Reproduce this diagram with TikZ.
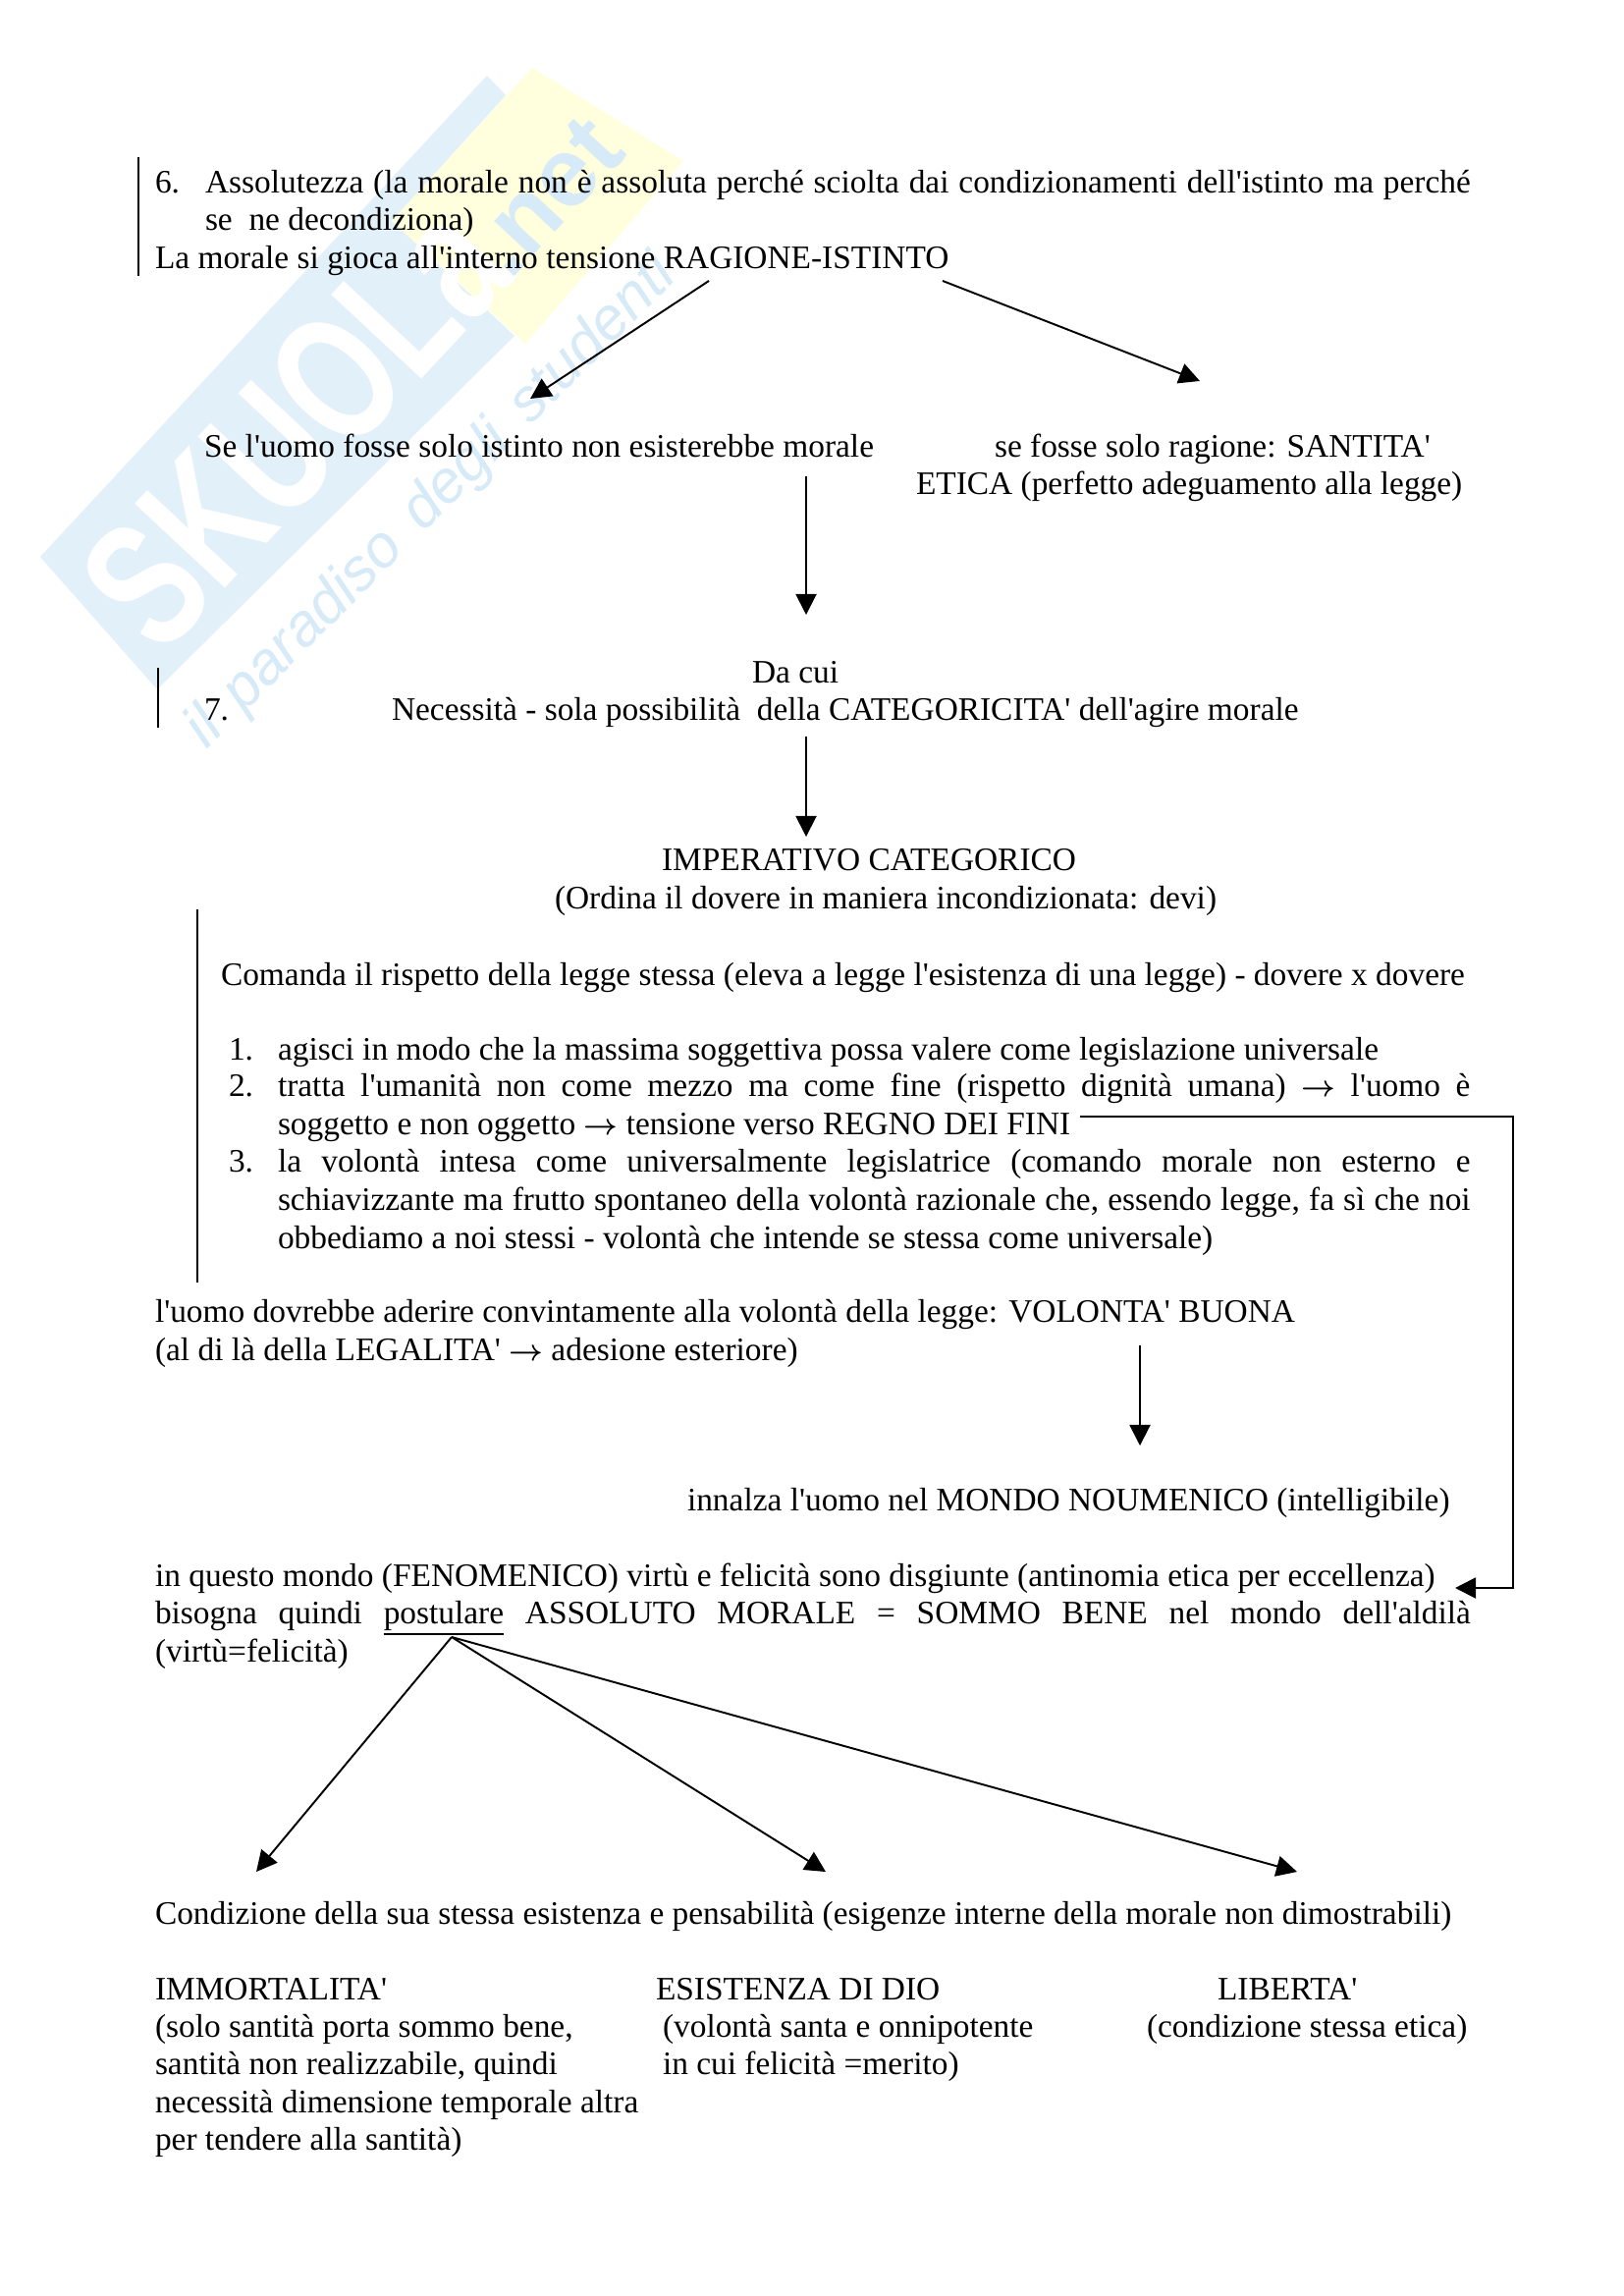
\documentclass[tikz,border=0pt]{standalone}
\usepackage{fontspec}
\setmainfont[Ligatures=TeXOff]{Liberation Serif}
\newfontfamily\wmfont{Liberation Sans}
\usepackage{tikz}
\usetikzlibrary{arrows.meta, positioning}
\definecolor{wmblue}{RGB}{226,240,249}
\definecolor{wmyellow}{RGB}{255,255,222}
\definecolor{wmtext}{RGB}{215,234,247}
\tikzset{
  txt/.style={anchor=base west, inner sep=0pt, outer sep=0pt, font=\fontsize{12.06pt}{12pt}\selectfont},
  freccia/.style={-{Triangle[length=7.6pt,width=7.6pt]}, line width=0.7pt},
  barra/.style={line width=0.7pt}
}
\newcommand{\jl}[2]{\makebox[#1][s]{#2}}
\newcommand{\fr}{\mbox{\fontsize{11pt}{11pt}\selectfont\boldmath$\rightarrow$}}
\begin{document}
\begin{tikzpicture}[x=0.0127cm, y=-0.0127cm]
    \useasboundingbox (0,0) rectangle (1653,2338);
    \fill[white] (0,0) rectangle (1653,2338);

    % watermark
    \fill[wmblue] (41,567) -- (496,77) -- (515,97) -- (399,225) -- (524,342) -- (160,702) -- cycle;
    \fill[wmyellow] (542,69) -- (696,164) -- (535,350) -- (399,225) -- cycle;
    \node[rotate=47, text=white, inner sep=0pt, font=\wmfont\bfseries\fontsize{66pt}{66pt}\selectfont, xscale=0.72] (wmlogo) at (300,432) {SKUOLa};
    \node[rotate=47, text=wmtext, inner sep=0pt, font=\wmfont\bfseries\fontsize{36pt}{36pt}\selectfont] (wmnet) at (556,200) {.net};
    \node[rotate=45, text=wmtext, inner sep=0pt, font=\wmfont\itshape\fontsize{22pt}{22pt}\selectfont] (wmmotto) at (440,512) {\spaceskip=0.42em il paradiso degli studenti};

    % margin bars
    \coordinate (b1a) at (141,160);
    \coordinate (b1b) at (141,281);
    \coordinate (b2a) at (161,680);
    \coordinate (b2b) at (161,741);
    \coordinate (b3a) at (201,926);
    \coordinate (b3b) at (201,1306);
    \draw[barra] (b1a) -- (b1b);
    \draw[barra] (b2a) -- (b2b);
    \draw[barra] (b3a) -- (b3b);

    % text
    \node[txt] (n6) at (158,197) {6.};
    \node[txt] (l1) at (209,197) {\jl{465.5pt}{Assolutezza (la morale non è assoluta perché sciolta dai condizionamenti dell'istinto ma perché}};
    \node[txt] (l2) at (209,235) {se\ \ ne decondiziona)};
    \node[txt] (l3) at (158,274) {La morale si gioca all'interno tensione RAGIONE-ISTINTO};
    \node[txt] (l4) at (208,466) {Se l'uomo fosse solo istinto non esisterebbe morale};
    \node[txt] (l5) at (1013,466) {se fosse solo ragione: SANTITA'};
    \node[txt] (l6) at (933,504) {ETICA (perfetto adeguamento alla legge)};
    \node[txt] (dacui) at (766,695) {Da cui};
    \node[txt] (n7) at (208,734) {7.};
    \node[txt] (l7) at (399,734) {Necessità - sola possibilità\ \ della CATEGORICITA' dell'agire morale};
    \node[txt] (imp) at (674,886) {IMPERATIVO CATEGORICO};
    \node[txt] (imp2) at (565,925) {(Ordina il dovere in maniera incondizionata: devi)};
    \node[txt] (com) at (225,1003) {Comanda il rispetto della legge stessa (eleva a legge l'esistenza di una legge) - dovere x dovere};
    \node[txt] (n1) at (233,1079) {1.};
    \node[txt] (p1) at (283,1079) {agisci in modo che la massima soggettiva possa valere come legislazione universale};
    \node[txt] (n2) at (233,1116) {2.};
    \node[txt] (p2) at (283,1116) {\jl{438.7pt}{tratta l'umanità non come mezzo ma come fine (rispetto dignità umana) \fr{} l'uomo è}};
    \node[txt] (p2b) at (283,1155) {soggetto e non oggetto \fr{} tensione verso REGNO DEI FINI};
    \node[txt] (n3) at (233,1193) {3.};
    \node[txt] (p3) at (283,1193) {\jl{438.7pt}{la volontà intesa come universalmente legislatrice (comando morale non esterno e}};
    \node[txt] (p3b) at (283,1232) {\jl{438.7pt}{schiavizzante ma frutto spontaneo della volontà razionale che, essendo legge, fa sì che noi}};
    \node[txt] (p3c) at (283,1271) {obbediamo a noi stessi - volontà che intende se stessa come universale)};
    \node[txt] (vb) at (158,1346) {l'uomo dovrebbe aderire convintamente alla volontà della legge: VOLONTA' BUONA};
    \node[txt] (vb2) at (158,1385) {(al di là della LEGALITA' \fr{} adesione esteriore)};
    \node[txt] (mn) at (700,1538) {innalza l'uomo nel MONDO NOUMENICO (intelligibile)};
    \node[txt] (fen) at (158,1615) {in questo mondo (FENOMENICO) virtù e felicità sono disgiunte (antinomia etica per eccellenza)};
    \node[txt] (bis) at (158,1653) {\jl{484pt}{bisogna quindi \underline{postulare} ASSOLUTO MORALE = SOMMO BENE nel mondo dell'aldilà}};
    \node[txt] (vf) at (158,1692) {(virtù=felicità)};
    \node[txt] (cond) at (158,1959) {Condizione della sua stessa esistenza e pensabilità (esigenze interne della morale non dimostrabili)};
    \node[txt] (imm) at (158,2036) {IMMORTALITA'};
    \node[txt] (imm1) at (158,2074) {(solo santità porta sommo bene,};
    \node[txt] (imm2) at (158,2112) {santità non realizzabile, quindi};
    \node[txt] (imm3) at (158,2151) {necessità dimensione temporale altra};
    \node[txt] (imm4) at (158,2189) {per tendere alla santità)};
    \node[txt] (dio) at (668,2036) {ESISTENZA DI DIO};
    \node[txt] (dio1) at (675,2074) {(volontà santa e onnipotente};
    \node[txt] (dio2) at (675,2112) {in cui felicità =merito)};
    \node[txt] (lib) at (1240,2036) {LIBERTA'};
    \node[txt] (lib1) at (1168,2074) {(condizione stessa etica)};

    % arrows
    \coordinate (a1a) at (722,286);
    \coordinate (a1b) at (540,406);
    \coordinate (a2a) at (960,286);
    \coordinate (a2b) at (1222,388);
    \coordinate (a3a) at (821,485);
    \coordinate (a3b) at (821,626);
    \coordinate (a4a) at (821,750);
    \coordinate (a4b) at (821,852);
    \coordinate (a5a) at (1161,1370);
    \coordinate (a5b) at (1161,1472);
    \coordinate (rA) at (1100,1137);
    \coordinate (rB) at (1541,1137);
    \coordinate (rC) at (1541,1617);
    \coordinate (rD) at (1482,1617);
    \coordinate (postu) at (460,1667);
    \coordinate (a6) at (261,1906);
    \coordinate (a7) at (841,1906);
    \coordinate (a8) at (1321,1906);
    \draw[freccia] (a1a) -- (a1b);
    \draw[freccia] (a2a) -- (a2b);
    \draw[freccia] (a3a) -- (a3b);
    \draw[freccia] (a4a) -- (a4b);
    \draw[freccia] (a5a) -- (a5b);
    \draw[freccia] (rA) -- (rB) -- (rC) -- (rD);
    \draw[freccia] (postu) -- (a6);
    \draw[freccia] (postu) -- (a7);
    \draw[freccia] (postu) -- (a8);
\end{tikzpicture}
\end{document}
